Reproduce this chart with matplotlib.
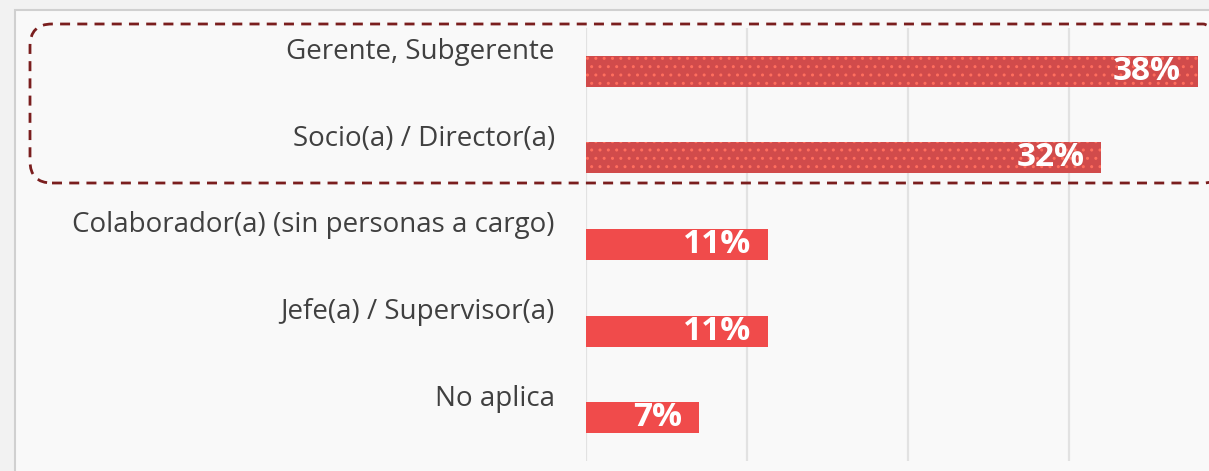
import matplotlib.pyplot as plt
from matplotlib.patches import Rectangle, FancyBboxPatch

categories = ["Gerente, Subgerente", "Socio(a) / Director(a)",
              "Colaborador(a) (sin personas a cargo)", "Jefe(a) / Supervisor(a)",
              "No aplica"]
values = [0.38, 0.32, 0.113, 0.113, 0.07]
highlight = [True, True, False, False, False]
value_labels = ["38%", "32%", "11%", "11%", "7%"]

plt.rcParams['font.family'] = ['Open Sans', 'DejaVu Sans']

W, H = 1209, 471
fig = plt.figure(figsize=(W / 100, H / 100), dpi=100)
fig.patch.set_facecolor('#f2f2f2')

# inner panel with light border
fig.patches.append(Rectangle((15 / W, -0.1), 1.1, (H - 10) / H + 0.1,
                             transform=fig.transFigure, facecolor='#f9f9f9',
                             edgecolor='#d0d0d0', linewidth=1.5, zorder=-5))

ax = fig.add_axes([586 / W, 1 - 461 / H, (W - 586) / W, (461 - 28) / H])
ax.set_facecolor('none')
ax.set_zorder(1)

for i, (v, hl) in enumerate(zip(values, highlight)):
    if hl:
        ax.barh(i, v, height=0.36, color='#d14b4b', edgecolor='#ff6e5e',
                hatch='..', linewidth=0, zorder=3)
    else:
        ax.barh(i, v, height=0.36, color='#f04b4b', linewidth=0, zorder=3)
    ax.annotate(value_labels[i], (v, i), xytext=(-12, 0), textcoords='offset points',
                ha='right', va='center', color='white', fontsize=24,
                fontweight='bold', zorder=4)
    ax.text(-0.05, i - 0.22, categories[i], transform=ax.get_yaxis_transform(),
            ha='right', va='center', fontsize=20, color='#404040', clip_on=False)

ax.set_xlim(0, 0.387)
ax.set_ylim(len(categories) - 0.5, -0.5)
ax.set_xticks([0, 0.1, 0.2, 0.3])
ax.set_yticks([])
ax.tick_params(axis='x', length=0, labelbottom=False)
ax.grid(axis='x', color='#e2e2e2', linewidth=1.6, zorder=0)
for s in ax.spines.values():
    s.set_visible(False)

# dashed highlight box around the first two rows (runs past the right edge)
box = FancyBboxPatch((0.30, (H - 183) / 100), 11.95, 1.59,
                     boxstyle='round,pad=0,rounding_size=0.22',
                     transform=fig.dpi_scale_trans, facecolor='none',
                     edgecolor='#7a1e1e', linewidth=2.0, linestyle=(0, (3.6, 2.6)),
                     zorder=5)
fig.patches.append(box)

fig.savefig('out.png', dpi=100, facecolor=fig.get_facecolor())
